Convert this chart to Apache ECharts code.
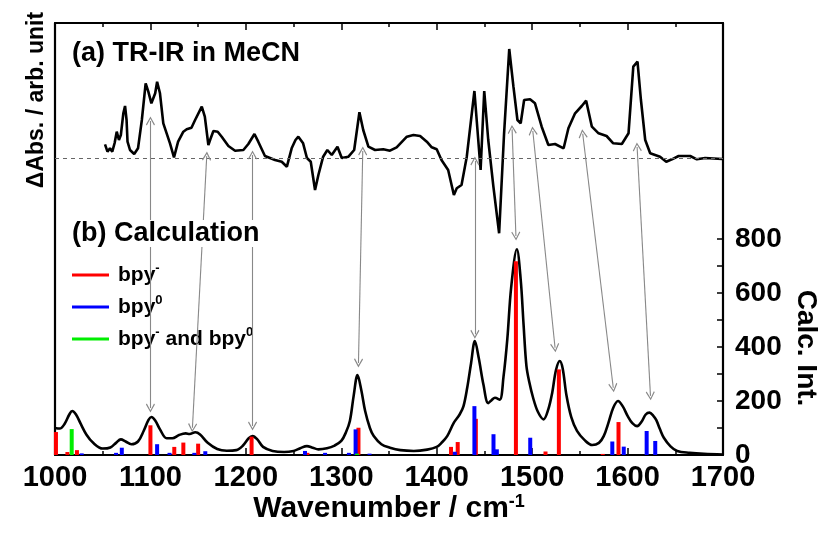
<!DOCTYPE html>
<html><head><meta charset="utf-8">
<script src="https://cdn.jsdelivr.net/npm/echarts@6/dist/echarts.min.js"></script>
<style>html,body{margin:0;padding:0;background:#fff}#c{width:830px;height:539px}</style>
</head><body><div id="c"></div>
<script>
const FONT = "'Liberation Sans', Arial, sans-serif";

// (a) TR-IR in MeCN trace: [wavenumber, ΔAbs (arb. unit)]
const trIR = [[1052.4,0.137],[1055,0.063],[1057.6,0.097],[1060,0.063],[1062.5,0.15],[1064.7,0.263],[1067,0.18],[1069,0.23],[1071.6,0.447],[1073.4,0.52],[1075,0.38],[1076,0.163],[1078.6,0.08],[1083,0.04],[1087,0.097],[1091,0.38],[1095,0.747],[1097.8,0.663],[1101,0.547],[1105,0.647],[1107,0.763],[1110,0.647],[1113.5,0.347],[1117,0.247],[1120.5,0.147],[1124.7,0.007],[1129,0.163],[1134.5,0.263],[1138,0.287],[1143,0.303],[1146.8,0.38],[1153.8,0.513],[1157,0.413],[1160.7,0.13],[1162.5,0.18],[1166,0.27],[1170.5,0.263],[1174.7,0.213],[1181.7,0.12],[1188.7,0.073],[1197.4,0.08],[1202.6,0.14],[1209,0.24],[1213,0.163],[1220,0.02],[1230.6,-0.02],[1237.6,-0.037],[1243,-0.087],[1248,0.097],[1252,0.18],[1255,0.213],[1260,0.147],[1264,0.0],[1268,-0.037],[1272.5,-0.32],[1276,-0.17],[1281,0.013],[1285.4,0.08],[1290,0.03],[1296,0.113],[1300.5,0.0],[1307.5,0.013],[1313.5,0.08],[1319,0.457],[1323,0.28],[1328.4,0.113],[1335.4,0.08],[1344,0.087],[1351,0.073],[1358,0.107],[1368.7,0.213],[1375.6,0.23],[1382.6,0.22],[1389.6,0.163],[1394.8,0.107],[1400,0.087],[1405,-0.02],[1412,-0.12],[1418,-0.37],[1421,-0.303],[1426,-0.27],[1431.5,0.013],[1439.5,0.67],[1446,-0.12],[1449.8,0.67],[1454,0.18],[1459.4,-0.287],[1465.4,-0.753],[1470.6,0.247],[1476,1.09],[1480.4,0.713],[1484.6,0.38],[1488,0.347],[1491.6,0.58],[1497.8,0.587],[1503,0.547],[1510,0.313],[1517,0.13],[1524,0.14],[1533,0.097],[1538,0.297],[1545,0.447],[1552,0.52],[1556.6,0.573],[1562.6,0.313],[1569.6,0.247],[1578,0.22],[1585,0.147],[1594,0.14],[1601,0.247],[1606,0.913],[1610.4,0.963],[1614,0.58],[1618.5,0.18],[1623.7,0.047],[1634,0.013],[1640.5,-0.037],[1646.5,-0.013],[1653.5,0.02],[1665.6,0.02],[1672.6,-0.013],[1681.3,0.0],[1699,-0.01]];

// (b) calculated spectrum envelope: [wavenumber, Calc. Int.]
const calcCurve = [[1000,100],[1005,98],[1010,115],[1015,150],[1018,163],[1022,150],[1027,115],[1033,75],[1040,45],[1050,24],[1058,28],[1064,45],[1069,58],[1074,50],[1080,40],[1087,50],[1093,90],[1098,130],[1101,141],[1105,128],[1110,95],[1117,62],[1123,62],[1130,74],[1137,80],[1141,78],[1147,84],[1152,76],[1160,45],[1170,22],[1180,16],[1190,18],[1197,35],[1203,62],[1207,70],[1212,58],[1218,30],[1228,15],[1240,11],[1250,15],[1257,25],[1264,33],[1270,27],[1276,21],[1285,25],[1293,35],[1300,52],[1305,85],[1309,126],[1313,220],[1317,296],[1321,240],[1325,163],[1330,100],[1334,70],[1342,40],[1351,27],[1362,18],[1376,15],[1390,20],[1400,30],[1405,45],[1411,70],[1418,120],[1424,150],[1428,180],[1432,250],[1436,340],[1440,422],[1444,360],[1449,260],[1454,192],[1458,205],[1461,212],[1466,205],[1470,290],[1474,430],[1478,620],[1484,762],[1488,650],[1491,484],[1494,330],[1497,270],[1501,212],[1506,160],[1512,132],[1517,170],[1521,230],[1525,315],[1529,348],[1532,320],[1536,220],[1541,140],[1547,89],[1555,55],[1563,37],[1570,45],[1575,70],[1580,120],[1585,175],[1590,200],[1595,180],[1600,145],[1605,118],[1610,107],[1615,125],[1619,150],[1623,157],[1627,145],[1630,130],[1634,95],[1638,64],[1645,32],[1652,15],[1665,8],[1680,4],[1700,2]];

// calculated stick intensities
const stickBpyMinus = [[1001,85],[1013,11],[1023,18],[1100,110],[1125,30],[1134.5,46],[1150,42],[1206,68],[1264.5,8],[1318,101],[1415,30],[1422,48],[1441,134],[1483,718],[1514,13],[1528,317],[1574,4],[1590.5,122]];
const stickBpy0 = [[1028,6],[1064,8],[1070,27],[1107,40],[1120,8],[1146,8],[1157.5,14],[1262,15],[1283,8],[1308,8],[1315,95],[1329.6,5],[1419,12],[1439.5,181],[1459.5,77],[1463,21],[1498,64],[1584,50],[1596,31],[1620,89],[1629,52]];
const stickBoth = [[1017.5,96],[1316.5,5]];

// correlation arrows: [wn top, int top, wn bottom, int bottom] (on Calc. Int. scale)
const arrows = [[1100,1237,1100,174],[1159,1107,1144,101],[1207,1111,1207,107],[1322.5,1126,1318,341],[1440,1089,1440,447],[1479,1206,1483,811],[1500.7,1200,1524,397],[1553,1190,1585,249],[1610,1141,1624,219]];

const xTickLabels = [1000,1100,1200,1300,1400,1500,1600,1700];
const yTickLabels = [0,200,400,600,800];
const yTicks = [0,100,200,300,400,500,600,700,800];
const seriesNames = ['bpy-','bpy0','bpy- and bpy0'];
const seriesRich = {'bpy-':'{b|bpy}{s|-}','bpy0':'{b|bpy}{s|0}','bpy- and bpy0':'{b|bpy}{s|-}{b| and bpy}{s|0}'};

const chevron = 'path://M5,0 L10,9 L9,10 L5,2.6 L1,10 L0,9 Z';
const axisLineStyle = {color:'#000', width:2.2};

const chart = echarts.init(document.getElementById('c'));
const option = {
  animation:false,
  backgroundColor:'#fff',
  grid:{left:55,right:107,top:23,bottom:84,outerBoundsMode:'none',containLabel:false},
  xAxis:[{
    type:'value', min:1000, max:1700, interval:100, position:'bottom',
    axisLine:{show:true,onZero:false,lineStyle:axisLineStyle},
    axisTick:{show:true,inside:true,length:7,lineStyle:{color:'#000',width:1.5}},
    minorTick:{show:true,splitNumber:2,length:4,lineStyle:{color:'#000',width:1.5}},
    splitLine:{show:false},
    axisLabel:{fontFamily:FONT,fontSize:29,fontWeight:'bold',color:'#000',margin:8,
      customValues:xTickLabels, formatter:function(v){return String(v);}},
    name:'{a|Wavenumber / cm}{s|-1}', nameLocation:'middle', nameGap:38, nameMoveOverlap:false,
    nameTextStyle:{rich:{
      a:{fontFamily:FONT,fontSize:30,fontWeight:'bold',color:'#000',lineHeight:32},
      s:{fontFamily:FONT,fontSize:18,fontWeight:'bold',color:'#000',verticalAlign:'top',lineHeight:18}}}
  },{
    type:'value', min:1000, max:1700, interval:100, position:'top',
    axisLine:{show:true,onZero:false,lineStyle:axisLineStyle},
    axisTick:{show:true,inside:true,length:7,lineStyle:{color:'#000',width:1.5}},
    minorTick:{show:true,splitNumber:2,length:4,lineStyle:{color:'#000',width:1.5}},
    splitLine:{show:false}, axisLabel:{show:false}
  }],
  yAxis:[{
    type:'value', position:'right', min:0, max:1600, interval:200,
    axisLine:{show:true,onZero:false,lineStyle:axisLineStyle},
    axisTick:{show:true,inside:true,length:6,customValues:yTicks,lineStyle:{color:'#000',width:1.5}},
    axisLabel:{customValues:yTickLabels,fontFamily:FONT,fontSize:28,fontWeight:'bold',color:'#000',margin:12,
      formatter:function(v){return String(v);}},
    splitLine:{show:false}
  },{
    type:'value', position:'left', min:-2.97, max:1.35,
    axisLine:{show:true,onZero:false,lineStyle:axisLineStyle},
    axisTick:{show:false}, axisLabel:{show:false}, splitLine:{show:false}
  }],
  legend:{
    data:seriesNames, orient:'vertical', left:72, top:262, padding:0,
    itemWidth:37, itemHeight:3, itemGap:6, icon:'rect', selectedMode:false,
    formatter:function(n){return seriesRich[n];},
    textStyle:{fontFamily:FONT,fontSize:21,fontWeight:'bold',color:'#000',backgroundColor:'#fff',padding:[0,2,0,4],
      rich:{
        b:{fontFamily:FONT,fontSize:21,fontWeight:'bold',color:'#000',lineHeight:26},
        s:{fontFamily:FONT,fontSize:13,fontWeight:'bold',color:'#000',verticalAlign:'top',lineHeight:12}
      }}
  },
  graphic:[
    {type:'text',z:100,left:72,top:40,style:{text:'(a) TR-IR in MeCN',fontFamily:FONT,fontSize:27,fontWeight:'bold',fill:'#000'}},
    {type:'text',z:100,left:72,top:220,style:{text:'(b) Calculation',fontFamily:FONT,fontSize:27,fontWeight:'bold',fill:'#000',backgroundColor:'#fff'}},
    {type:'text',z:100,x:37,y:100,rotation:Math.PI/2,style:{text:'\u0394Abs. / arb. unit',fontFamily:FONT,fontSize:23,fontWeight:'bold',fill:'#000',align:'center',verticalAlign:'middle'}},
    {type:'text',z:100,x:806,y:348,rotation:-Math.PI/2,style:{text:'Calc. Int.',fontFamily:FONT,fontSize:28,fontWeight:'bold',fill:'#000',align:'center',verticalAlign:'middle'}}
  ],
  series:[{
    name:'TR-IR', type:'line', xAxisIndex:0, yAxisIndex:1, data:trIR, showSymbol:false, symbol:'none',
    lineStyle:{color:'#000',width:2.6}, z:3, silent:true,
    markLine:{silent:true,symbol:'none',label:{show:false},
      lineStyle:{color:'#666',type:[4,4],width:1},
      data:[{yAxis:0}]}
  },{
    name:'Calc', type:'line', xAxisIndex:0, yAxisIndex:0, data:calcCurve, showSymbol:false, symbol:'none', smooth:0.35,
    lineStyle:{color:'#000',width:2.6}, z:3, silent:true,
    markLine:{silent:true,symbol:[chevron,chevron],symbolSize:9,label:{show:false},
      lineStyle:{color:'#888',type:'solid',width:1.1},
      emphasis:{disabled:true},
      data:arrows.map(a=>[{coord:[a[0],a[1]]},{coord:[a[2],a[3]]}])}
  },{
    name:'bpy-', type:'bar', xAxisIndex:0, yAxisIndex:0, data:stickBpyMinus, barWidth:4, barGap:'-100%',
    itemStyle:{color:'#ff0000'}, z:4, silent:true
  },{
    name:'bpy0', type:'bar', xAxisIndex:0, yAxisIndex:0, data:stickBpy0, barWidth:4, barGap:'-100%',
    itemStyle:{color:'#0000ff'}, z:4, silent:true
  },{
    name:'bpy- and bpy0', type:'bar', xAxisIndex:0, yAxisIndex:0, data:stickBoth, barWidth:4, barGap:'-100%',
    itemStyle:{color:'#00ee00'}, z:4, silent:true
  }]
};
chart.setOption(option);
</script></body></html>
